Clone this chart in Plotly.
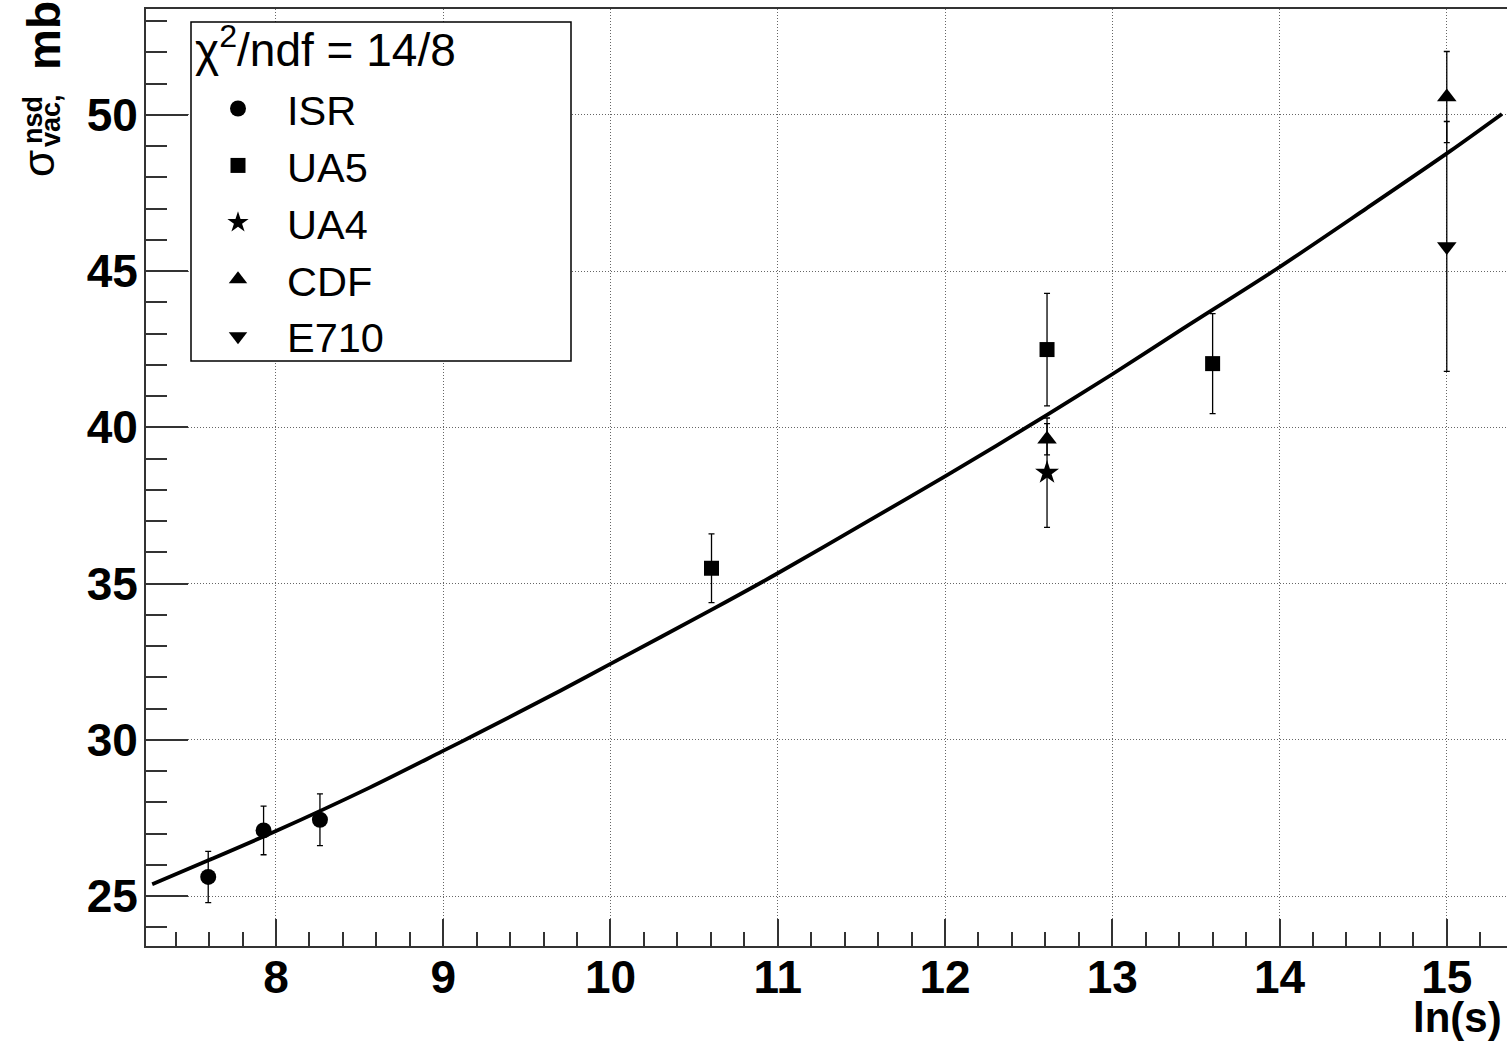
import plotly.graph_objects as go

# ---- measured cross sections (ln s, sigma in mb, symmetric error) ----
isr_x = [7.595, 7.926, 8.263]
isr_y = [25.61, 27.10, 27.44]
isr_err = [0.82, 0.78, 0.83]

ua5_x = [10.604, 12.61, 13.60]
ua5_y = [35.49, 42.49, 42.04]
ua5_err = [1.10, 1.80, 1.60]

ua4_x = [12.61]
ua4_y = [38.55]
ua4_err = [1.75]

cdf_x = [12.61, 15.0]
cdf_y = [39.62, 50.57]
cdf_err = [0.50, 1.46]

e710_x = [15.0]
e710_y = [45.79]
e710_err = [4.0]

# ---- fitted curve, sampled along ln s ----
fit_x = [7.26, 7.60, 8.00, 8.56, 8.99, 9.19, 9.70, 10.00, 10.60, 11.00,
         11.54, 12.01, 12.61, 13.00, 13.42, 13.98, 14.52, 15.02, 15.33]
fit_y = [25.38, 26.15, 27.08, 28.47, 29.62, 30.16, 31.57, 32.43, 34.15, 35.33,
         37.00, 38.46, 40.40, 41.70, 43.15, 45.06, 47.01, 48.84, 50.03]

header_text = "χ<sup>2</sup>/ndf = 14/8"

# ---- page / frame geometry (pixels) ----
W, H = 1507, 1044
PX_L, PX_R, PX_T, PX_B = 146, 1507, 9, 946


def paper(px, py):
    return ((px - PX_L) / (PX_R - PX_L), (PX_B - py) / (PX_B - PX_T))


FONT = "Liberation Sans"
err_style = dict(type="data", visible=True, color="black", thickness=1.3, width=3)

fig = go.Figure()

fig.add_trace(go.Scatter(
    x=fit_x, y=fit_y, mode="lines",
    line=dict(color="black", width=3.8, shape="spline", smoothing=0.8),
    showlegend=False, hoverinfo="skip"))

series = [
    ("ISR", isr_x, isr_y, isr_err, "circle", 16),
    ("UA5", ua5_x, ua5_y, ua5_err, "square", 15),
    ("UA4", ua4_x, ua4_y, ua4_err, "star", 18),
    ("CDF", cdf_x, cdf_y, cdf_err, "triangle-up", 17),
    ("E710", e710_x, e710_y, e710_err, "triangle-down", 17),
]
for name, xs, ys, es, sym, sz in series:
    fig.add_trace(go.Scatter(
        x=xs, y=ys, name=name, mode="markers",
        marker=dict(symbol=sym, size=sz, color="black", line=dict(width=0)),
        error_y=dict(array=es, **err_style)))

axis_common = dict(
    showline=True, linecolor="#333", linewidth=2,
    ticks="inside", tickcolor="#333", tickwidth=1.5,
    showgrid=True, gridcolor="#666", gridwidth=1, griddash="1px,2px",
    zeroline=False,
    tickfont=dict(family=FONT, size=46, color="black", weight="bold"),
)

fig.update_xaxes(
    range=[7.223, 15.36], tick0=0, dtick=1, ticklen=27,
    minor=dict(dtick=0.2, ticks="inside", ticklen=14, tickcolor="#333", tickwidth=1.5, showgrid=False),
    mirror=True, ticklabelstandoff=-10,
    **axis_common)
fig.update_yaxes(
    range=[23.40, 53.39], tick0=0, dtick=5, ticklen=42,
    minor=dict(dtick=1, ticks="inside", ticklen=21, tickcolor="#333", tickwidth=1.5, showgrid=False),
    mirror=False, ticklabelstandoff=-3,
    **axis_common)

# legend frame
x0, y0 = paper(191, 22)
x1, y1 = paper(571, 361)
fig.add_shape(type="rect", xref="paper", yref="paper", x0=x0, y0=y1, x1=x1, y1=y0,
              line=dict(color="black", width=1.5), fillcolor="white", layer="above")

lx, ly = paper(189, 75)
fig.update_layout(
    legend=dict(
        x=lx, y=ly, xanchor="left", yanchor="top",
        bgcolor="rgba(0,0,0,0)", borderwidth=0,
        font=dict(family=FONT, size=41.5, color="black"),
        itemwidth=88, tracegroupgap=0,
    ),
)

ann = []
# legend header line
hx, hy = paper(193, 47)
ann.append(dict(text=header_text, x=hx, y=hy, xanchor="left", yanchor="middle",
                font=dict(family=FONT, size=46, color="black")))
# axis titles
ax, ay = paper(1504, 1043)
ann.append(dict(text="ln(s)", x=ax, y=ay, xanchor="right", yanchor="bottom",
                font=dict(family=FONT, size=42, color="black", weight="bold")))
for txt, px, py, size, wt in [("mb", 44, 36, 46, "bold"), ("σ", 38, 164, 44, "normal"),
                              ("nsd", 33, 120, 27, "bold"), ("vac,", 51, 120, 27, "bold")]:
    xx, yy = paper(px, py)
    ann.append(dict(text=txt, x=xx, y=yy, xanchor="center", yanchor="middle", textangle=-90,
                    font=dict(family=FONT, size=size, color="black", weight=wt)))
for a in ann:
    a.update(xref="paper", yref="paper", showarrow=False)

fig.update_layout(
    annotations=ann,
    width=W, height=H, autosize=False,
    margin=dict(l=PX_L, r=W - PX_R, t=PX_T, b=H - PX_B, pad=0),
    plot_bgcolor="white", paper_bgcolor="white",
    font=dict(family=FONT, color="black"),
)

fig.write_html("out.html")
